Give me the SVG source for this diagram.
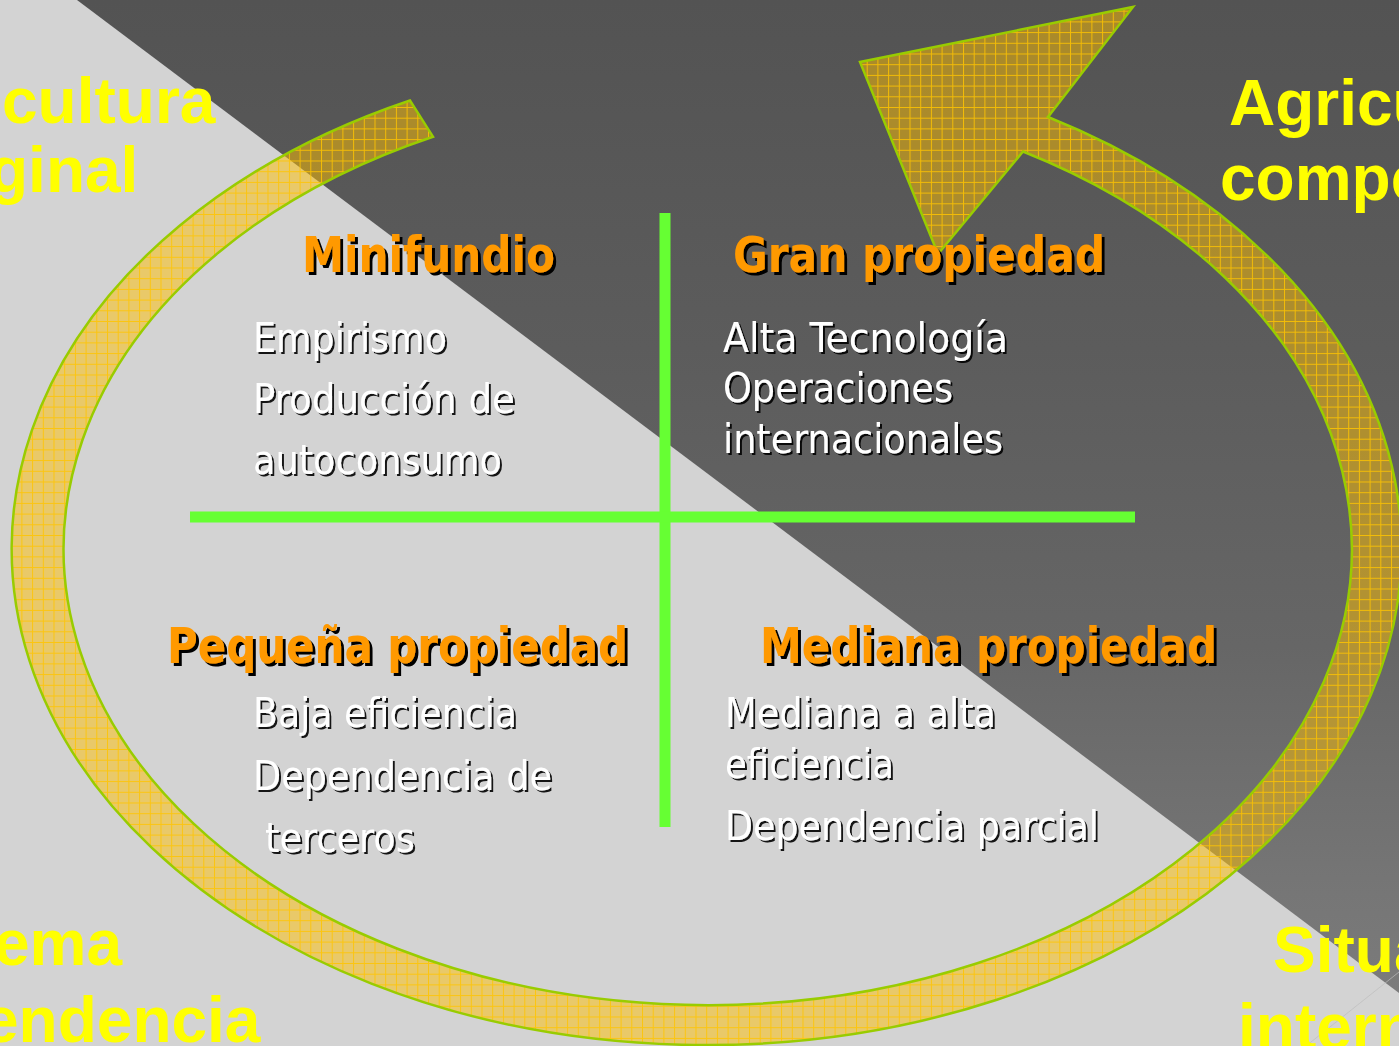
<svg xmlns="http://www.w3.org/2000/svg" width="1399" height="1046" viewBox="0 0 1399 1046">
<defs>
<style>
.h{font-family:"DejaVu Sans",Verdana,sans-serif;font-stretch:condensed;font-weight:bold;font-size:50px;fill:#ff9900;filter:url(#shH)}
.b{font-family:"DejaVu Sans",Verdana,sans-serif;font-stretch:condensed;font-size:40px;fill:#ffffff;filter:url(#shB)}
.y{font-family:"Liberation Sans",Arial,sans-serif;font-weight:bold;font-size:64px;fill:#ffff00}
.gl{stroke:#66ff33;stroke-width:11;fill:none}
</style>
<linearGradient id="dark" gradientUnits="userSpaceOnUse" x1="0" y1="0" x2="0" y2="993">
<stop offset="0" stop-color="#535353"/>
<stop offset="0.35" stop-color="#5c5c5c"/>
<stop offset="0.65" stop-color="#666666"/>
<stop offset="0.9" stop-color="#767676"/>
<stop offset="1" stop-color="#7b7b7b"/>
</linearGradient>
<pattern id="grid" width="10.7" height="10.7" patternUnits="userSpaceOnUse">
<path d="M0 0.5H10.7M0.5 0V10.7" stroke="#ffc400" stroke-width="1" stroke-opacity="0.85" fill="none"/>
</pattern>
<filter id="shH" x="-5%" y="-20%" width="115%" height="150%">
<feDropShadow dx="3" dy="3" stdDeviation="0" flood-color="#000" flood-opacity="1"/>
</filter>
<filter id="shB" x="-5%" y="-20%" width="115%" height="150%">
<feDropShadow dx="2" dy="2" stdDeviation="0" flood-color="#000" flood-opacity="0.9"/>
</filter>
</defs>

<g id="background">
<rect x="0" y="0" width="1399" height="1046" fill="#d3d3d3"/>
<polygon points="77,0 1399,0 1399,993" fill="url(#dark)"/>
<line x1="1399" y1="972" x2="1306" y2="1046" stroke="#bdbdbd" stroke-width="1" stroke-opacity="0.7"/>
</g>

<g id="side-labels">
<text class="y" x="2" y="123">cultura</text>
<text class="y" x="-11" y="192">ginal</text>
<text class="y" x="1229" y="125">Agricu</text>
<text class="y" x="1220" y="200">compe</text>
<text class="y" x="-6" y="965">ema</text>
<text class="y" x="-17" y="1042">endencia</text>
<text class="y" x="1273" y="972">Situa</text>
<text class="y" x="1238" y="1049">intern</text>
</g>

<g id="connectors">
<g id="cycle-arrow">
<path id="ring" d="M410,100.5 A695,496 0 1 0 1048,117 L1133,7 L860,62 L938,254 L1023,151.5 A644,456 0 1 1 433,136.7 Z" fill="#ffc000" fill-opacity="0.5"/>
<path d="M410,100.5 A695,496 0 1 0 1048,117 L1133,7 L860,62 L938,254 L1023,151.5 A644,456 0 1 1 433,136.7 Z" fill="url(#grid)" stroke="#99cc00" stroke-width="2.5" stroke-linejoin="miter"/>
</g>
<g id="axes">
<line class="gl" x1="665" y1="213" x2="665" y2="827"/>
<line class="gl" x1="190" y1="517" x2="1135" y2="517"/>
</g>
</g>

<g id="minifundio">
<text class="h" x="302" y="272" textLength="253" lengthAdjust="spacingAndGlyphs">Minifundio</text>
<text class="b" x="253" y="352" textLength="194" lengthAdjust="spacingAndGlyphs">Empirismo</text>
<text class="b" x="253" y="413" textLength="262" lengthAdjust="spacingAndGlyphs">Producción de</text>
<text class="b" x="253" y="474" textLength="249" lengthAdjust="spacingAndGlyphs">autoconsumo</text>
</g>

<g id="gran-propiedad">
<text class="h" x="733" y="272" textLength="372" lengthAdjust="spacingAndGlyphs">Gran propiedad</text>
<text class="b" x="723" y="352" textLength="285" lengthAdjust="spacingAndGlyphs">Alta Tecnología</text>
<text class="b" x="723" y="402" textLength="230" lengthAdjust="spacingAndGlyphs">Operaciones</text>
<text class="b" x="723" y="453" textLength="280" lengthAdjust="spacingAndGlyphs">internacionales</text>
</g>

<g id="pequena-propiedad">
<text class="h" x="167" y="663" textLength="461" lengthAdjust="spacingAndGlyphs">Pequeña propiedad</text>
<text class="b" x="253" y="727" textLength="264" lengthAdjust="spacingAndGlyphs">Baja eficiencia</text>
<text class="b" x="253" y="790" textLength="299" lengthAdjust="spacingAndGlyphs">Dependencia de</text>
<text class="b" x="265" y="852" textLength="150" lengthAdjust="spacingAndGlyphs">terceros</text>
</g>

<g id="mediana-propiedad">
<text class="h" x="760" y="663" textLength="457" lengthAdjust="spacingAndGlyphs">Mediana propiedad</text>
<text class="b" x="725" y="727" textLength="271" lengthAdjust="spacingAndGlyphs">Mediana a alta</text>
<text class="b" x="725" y="778" textLength="169" lengthAdjust="spacingAndGlyphs">eficiencia</text>
<text class="b" x="725" y="840" textLength="374" lengthAdjust="spacingAndGlyphs">Dependencia parcial</text>
</g>
</svg>
